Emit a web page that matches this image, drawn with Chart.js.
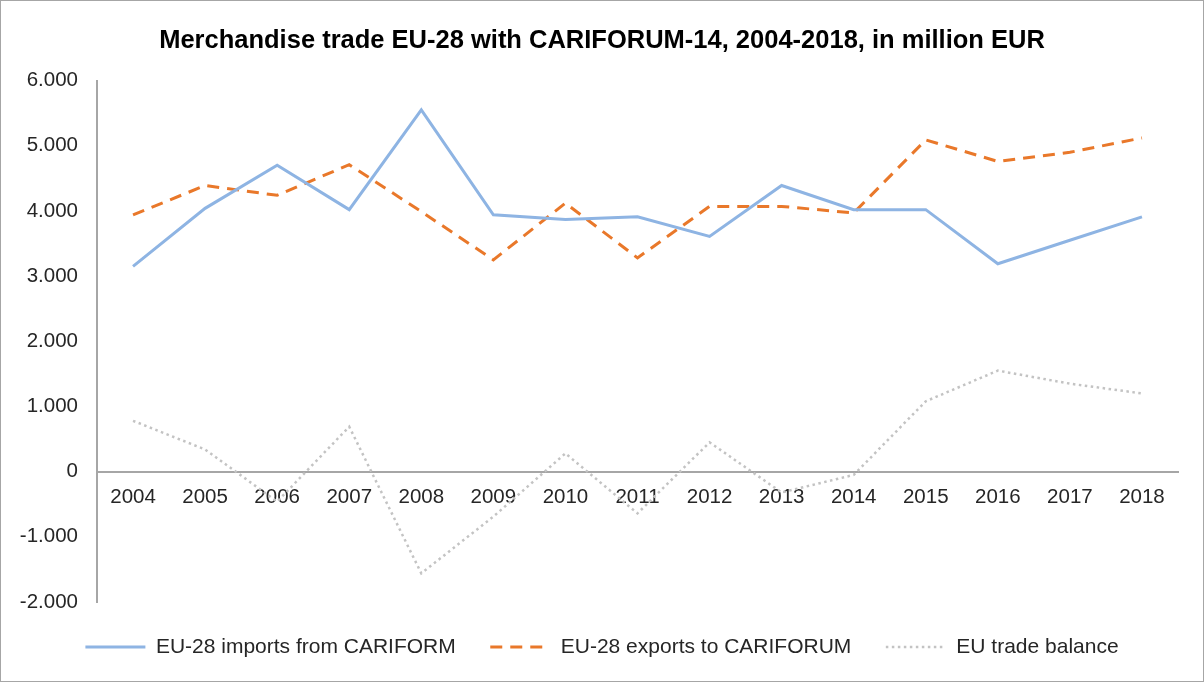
<!DOCTYPE html>
<html>
<head>
<meta charset="utf-8">
<script src="https://cdn.jsdelivr.net/npm/chart.js@4.4.1/dist/chart.umd.min.js"></script>
<style>
  html, body { margin: 0; padding: 0; background: #fff; }
  #wrap { width: 1204px; height: 682px; position: relative; }
</style>
</head>
<body>
<div id="wrap"><canvas id="c" width="1204" height="682"></canvas></div>
<script>
// ---- data ----
const years = ['2004','2005','2006','2007','2008','2009','2010','2011','2012','2013','2014','2015','2016','2017','2018'];
const importsFromCariforum = [3150, 4040, 4700, 4020, 5550, 3940, 3870, 3910, 3610, 4390, 4020, 4020, 3190, 3550, 3910];
const exportsToCariforum   = [3940, 4390, 4240, 4710, 3990, 3250, 4120, 3280, 4070, 4070, 3970, 5090, 4760, 4900, 5120];
const tradeBalance         = [780, 340, -460, 690, -1560, -690, 280, -640, 450, -320, -50, 1080, 1550, 1350, 1200];
const yTickLabels = ['-2.000', '-1.000', '0', '1.000', '2.000', '3.000', '4.000', '5.000', '6.000'];
const seriesNames = ['EU-28 imports from CARIFORM', 'EU-28 exports to CARIFORUM', 'EU trade balance'];
const chartTitle = 'Merchandise trade EU-28 with CARIFORUM-14, 2004-2018, in million EUR';

const FONT = '"Liberation Sans", Arial, sans-serif';

const framePlugin = {
  id: 'frame',
  beforeDraw(chart) {
    const ctx = chart.ctx;
    ctx.save();
    ctx.fillStyle = '#ffffff';
    ctx.fillRect(0, 0, chart.width, chart.height);
    ctx.strokeStyle = '#a6a6a6';
    ctx.lineWidth = 1;
    ctx.strokeRect(0.5, 0.5, chart.width - 1, chart.height - 1);
    ctx.restore();
  }
};

new Chart(document.getElementById('c'), {
  type: 'line',
  data: {
    labels: years,
    datasets: [
      {
        label: seriesNames[0],
        data: importsFromCariforum,
        borderColor: '#8eb4e3',
        backgroundColor: '#8eb4e3',
        borderWidth: 3,
        pointRadius: 0,
        tension: 0
      },
      {
        label: seriesNames[1],
        data: exportsToCariforum,
        borderColor: '#e9782a',
        backgroundColor: '#e9782a',
        borderWidth: 3,
        borderDash: [12, 8],
        pointRadius: 0,
        tension: 0
      },
      {
        label: seriesNames[2],
        data: tradeBalance,
        borderColor: '#c3c3c3',
        backgroundColor: '#c3c3c3',
        borderWidth: 2.5,
        borderDash: [2.5, 3.5],
        pointRadius: 0,
        tension: 0
      }
    ]
  },
  options: {
    responsive: false,
    animation: false,
    devicePixelRatio: 1,
    layout: { padding: { left: 0, right: 0, top: 0, bottom: 14.5 } },
    plugins: {
      title: {
        display: true,
        text: chartTitle,
        color: '#000000',
        font: { family: FONT, size: 25.5, weight: 'bold' },
        padding: { top: 26, bottom: 24 }
      },
      legend: {
        display: true,
        position: 'bottom',
        labels: {
          usePointStyle: true,
          pointStyle: 'line',
          pointStyleWidth: 60,
          color: '#262626',
          font: { family: FONT, size: 21 },
          padding: 34.5,
          generateLabels(chart) {
            const items = Chart.defaults.plugins.legend.labels.generateLabels(chart);
            items.forEach((it, i) => {
              const ds = chart.data.datasets[i];
              it.lineDash = ds.borderDash || [];
              it.lineWidth = ds.borderWidth;
              it.strokeStyle = ds.borderColor;
              it.fillStyle = ds.borderColor;
              it.pointStyle = 'line';
            });
            return items;
          }
        }
      },
      tooltip: { enabled: false }
    },
    scales: {
      x: {
        type: 'category',
        position: { y: 0 },
        offset: true,
        grid: { display: false, drawTicks: false },
        border: { display: true, color: '#a6a6a6', width: 2 },
        ticks: {
          color: '#262626',
          font: { family: FONT, size: 20.5 },
          padding: 13,
          maxRotation: 0,
          autoSkip: false
        }
      },
      y: {
        min: -2000,
        max: 6000,
        grid: { display: false, drawTicks: false },
        border: { display: true, color: '#a6a6a6', width: 2 },
        afterFit(scale) { scale.width = 97; },
        ticks: {
          stepSize: 1000,
          color: '#262626',
          font: { family: FONT, size: 20.5 },
          padding: 19,
          callback: (value, index) => yTickLabels[index]
        }
      },
      yRightSpace: {
        position: 'right',
        min: -2000,
        max: 6000,
        grid: { display: false, drawTicks: false },
        border: { display: false },
        ticks: { display: false },
        afterFit(scale) { scale.width = 26; }
      }
    }
  },
  plugins: [framePlugin]
});
</script>
</body>
</html>
